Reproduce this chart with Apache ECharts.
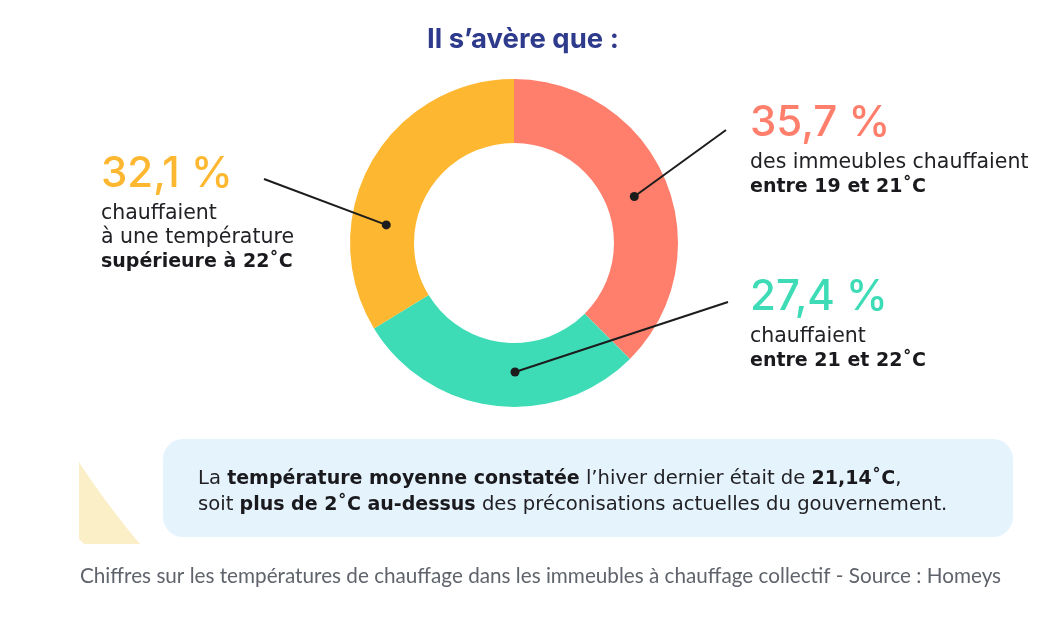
<!DOCTYPE html>
<html>
<head>
    <meta charset="utf-8">
    <title>Températures de chauffage</title>
    <script src="https://cdn.jsdelivr.net/npm/echarts@6/dist/echarts.min.js"></script>
    <style>
        html, body {margin: 0; padding: 0; background: #fff;}
        #chart {width: 1058px; height: 629px;}
    </style>
</head>
<body>
<div id="chart"></div>
<script>
    let categories = ['entre 19 et 21˚C', 'entre 21 et 22˚C', 'supérieure à 22˚C'];
    let shares = [35.7, 27.4, 32.1];
    let shareLabels = ['35,7 %', '27,4 %', '32,1 %'];
    let labelLines = [
        ['des immeubles chauffaient'],
        ['chauffaient'],
        ['chauffaient', 'à une température']
    ];
    let colors = ['#ff7f6c', '#3edcb6', '#feb730'];

    // placement des étiquettes (x, y du bloc, fin du trait, position du point dans le secteur)
    let annot = [
        {x: 750, y: 95, end: [726, 130], at: 0.51},
        {x: 750, y: 269, end: [728, 302], at: 0.43},
        {x: 101, y: 146, end: [264, 179], at: 0.325}
    ];

    let font = '"DejaVu Sans", sans-serif';
    let numFont = 'Inter, sans-serif';
    let chart = echarts.init(document.getElementById('chart'));

    chart.setOption({
        animation: false,
        title: {
            text: 'Il s’avère que :',
            left: 422,
            top: 21,
            textStyle: {fontFamily: numFont, fontSize: 27.5, fontWeight: 'bold', color: '#2e3a8b'}
        },
        series: [{
            type: 'pie',
            center: [514, 243],
            radius: [100, 164],
            startAngle: 90,
            clockwise: true,
            silent: true,
            label: {show: false},
            labelLine: {show: false},
            data: categories.map(function (c, i) {
                return {name: c, value: shares[i], itemStyle: {color: colors[i]}};
            })
        }]
    });

    // points d'ancrage calculés depuis la mise en page du camembert
    let pieData = chart.getModel().getSeriesByIndex(0).getData();
    let anchors = shares.map(function (v, i) {
        let l = pieData.getItemLayout(i);
        let a = l.startAngle + (l.endAngle - l.startAngle) * annot[i].at;
        let r = (l.r + l.r0) / 2 - 3;
        return [l.cx + r * Math.cos(a), l.cy + r * Math.sin(a)];
    });

    let graphics = [];
    anchors.forEach(function (p, i) {
        graphics.push({
            type: 'polyline', z: 10,
            shape: {points: [p, annot[i].end]},
            style: {stroke: '#1c1c1c', lineWidth: 2, fill: null}
        });
        graphics.push({
            type: 'circle', z: 11,
            shape: {cx: p[0], cy: p[1], r: 4.5},
            style: {fill: '#1c1c1c'}
        });
        let txt = '{pct|' + shareLabels[i] + '}';
        labelLines[i].forEach(function (s) { txt += '\n{t|' + s + '}'; });
        txt += '\n{b|' + categories[i] + '}';
        graphics.push({
            type: 'text', z: 12,
            x: annot[i].x, y: annot[i].y,
            style: {
                text: txt,
                verticalAlign: 'top',
                rich: {
                    pct: {fontFamily: numFont, fontSize: 42, fontWeight: 500, lineHeight: 56, fill: colors[i]},
                    t: {fontFamily: font, fontSize: 20.5, lineHeight: 24, fill: '#222226'},
                    b: {fontFamily: font, fontSize: 19, fontWeight: 'bold', lineHeight: 24, fill: '#1a1a1e'}
                }
            }
        });
    });

    // forme décorative jaune
    let deco = [];
    for (let k = 0; k <= 12; k++) {
        let t = k / 12;
        deco.push([
            (1 - t) * (1 - t) * 79 + 2 * t * (1 - t) * 107 + t * t * 140,
            (1 - t) * (1 - t) * 462 + 2 * t * (1 - t) * 505 + t * t * 544
        ]);
    }
    deco.push([84, 544], [79, 539]);
    graphics.push({
        type: 'polygon',
        shape: {points: deco},
        style: {fill: '#fbefc7'}
    });
    // encadré bleu
    graphics.push({
        type: 'rect',
        shape: {x: 163, y: 439, width: 850, height: 98, r: 20},
        style: {fill: '#e5f3fc'}
    });
    graphics.push({
        type: 'text', z: 5,
        x: 198, y: 466,
        style: {
            text: '{n|La }{b|température moyenne constatée}{n| l’hiver dernier était de }{b|21,14˚C}{n|,}\n' +
                '{n|soit }{b|plus de 2˚C au-dessus}{n| des préconisations actuelles du gouvernement.}',
            verticalAlign: 'top',
            rich: {
                n: {fontFamily: font, fontSize: 19.6, lineHeight: 26, fill: '#222226'},
                b: {fontFamily: font, fontSize: 19, fontWeight: 'bold', lineHeight: 26, fill: '#1a1a1e'}
            }
        }
    });
    // légende
    graphics.push({
        type: 'text',
        x: 80, y: 564,
        style: {
            text: 'Chiffres sur les températures de chauffage dans les immeubles à chauffage collectif - Source : Homeys',
            verticalAlign: 'top',
            fontFamily: 'Lato, sans-serif', fontSize: 20.7, lineHeight: 24, fill: '#5f636b'
        }
    });

    chart.setOption({graphic: graphics});
</script>
</body>
</html>
